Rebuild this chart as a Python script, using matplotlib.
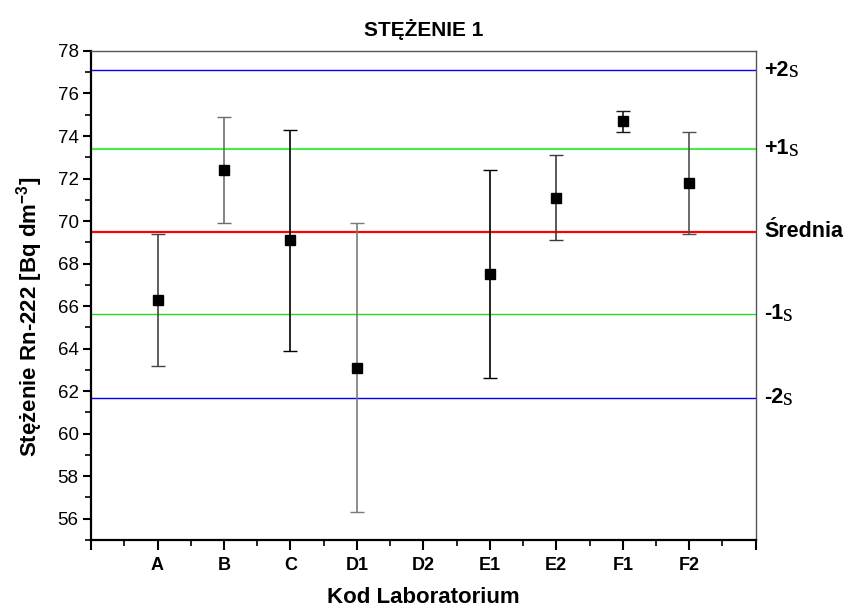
import numpy as np
import matplotlib
matplotlib.use('Agg')
import matplotlib.pyplot as plt
from matplotlib.ticker import MultipleLocator

plt.rcParams['font.family'] = ['Liberation Sans', 'DejaVu Sans']
plt.rcParams['mathtext.fontset'] = 'custom'
plt.rcParams['mathtext.rm'] = 'Liberation Sans:bold'
plt.rcParams['mathtext.bf'] = 'Liberation Sans:bold'

# Lab codes and measured values (D2 has no result)
labs = ['A', 'B', 'C', 'D1', 'D2', 'E1', 'E2', 'F1', 'F2']
values = [66.3, 72.4, 69.1, 63.1, np.nan, 67.5, 71.1, 74.7, 71.8]
err_low = [63.2, 69.9, 63.9, 56.3, np.nan, 62.6, 69.1, 74.2, 69.4]
err_high = [69.4, 74.9, 74.3, 69.9, np.nan, 72.4, 73.1, 75.2, 74.2]
bar_colors = ['#444444', '#6e6e6e', '#000000', '#7a7a7a', '#000000',
              '#000000', '#3c3c3c', '#1a1a1a', '#505050']

# Reference levels: mean and +/- 1s, 2s
ref_levels = [77.1, 73.4, 69.5, 65.65, 61.7]
ref_prefix = ['+2', '+1', 'Średnia', '-1', '-2']
ref_suffix = ['s', 's', '', 's', 's']
ref_colors = ['#0000ff', '#44ee44', '#ff0000', '#22dd22', '#0000ee']
ref_widths = [1.0, 1.5, 1.6, 1.0, 1.0]

fig = plt.figure(figsize=(8.51, 6.09), dpi=100)
ax = fig.add_axes([0.107, 0.1133, 0.781, 0.803])

x = np.arange(1, len(labs) + 1)

for lvl, c, lw in zip(ref_levels, ref_colors, ref_widths):
    ax.axhline(lvl, color=c, lw=lw, zorder=1)

for xi, v, lo, hi, c in zip(x, values, err_low, err_high, bar_colors):
    if np.isnan(v):
        continue
    ax.errorbar(xi, v, yerr=[[v - lo], [hi - v]], fmt='none', ecolor=c,
                elinewidth=1.2, capsize=5, capthick=1.0, zorder=2)
ax.plot(x, values, 's', color='black', markersize=7, zorder=3)

# labels on the right side of the plot
for lvl, pre, suf in zip(ref_levels, ref_prefix, ref_suffix):
    t = ax.annotate(pre, xy=(1.0, lvl), xycoords=('axes fraction', 'data'),
                    xytext=(6, 0), textcoords='offset points',
                    ha='left', va='center', fontsize=15.5, fontweight='bold',
                    annotation_clip=False)
    if suf:
        ax.annotate(suf, xy=(1.0, 0.45), xycoords=t, xytext=(0, 0),
                    textcoords='offset points', ha='left', va='center',
                    fontsize=18, family='Liberation Serif',
                    annotation_clip=False)

ax.set_xlim(0, 10)
ax.set_ylim(55, 78)
ax.set_xticks(np.arange(0, 11))
ax.set_xticklabels([''] + labs + [''], fontweight='bold', fontsize=13)
ax.xaxis.set_minor_locator(MultipleLocator(0.5))
ax.set_yticks(np.arange(56, 79, 2))
ax.yaxis.set_minor_locator(MultipleLocator(1))
ax.tick_params(axis='y', which='major', direction='out', length=6, width=1.5,
               labelsize=13.5, pad=3)
ax.tick_params(axis='y', which='minor', direction='out', length=4, width=1.2)
ax.tick_params(axis='x', which='major', direction='out', length=7, width=1.5,
               pad=5)
ax.tick_params(axis='x', which='minor', direction='out', length=4, width=1.2)

for side in ['left', 'bottom']:
    ax.spines[side].set_linewidth(1.6)
    ax.spines[side].set_color('black')
for side in ['top', 'right']:
    ax.spines[side].set_linewidth(1.0)
    ax.spines[side].set_color('#555555')

ax.set_title('STĘŻENIE 1', fontsize=15, fontweight='bold', pad=11)
ax.set_xlabel('Kod Laboratorium', fontsize=16, fontweight='bold')
ax.xaxis.set_label_coords(0.5, -0.097)
ax.set_ylabel(r'Stężenie Rn-222 [Bq dm$^{-3}$]', fontsize=16,
              fontweight='bold')
ax.yaxis.set_label_coords(-0.069, 0.457)

fig.savefig('out.png', dpi=100)
